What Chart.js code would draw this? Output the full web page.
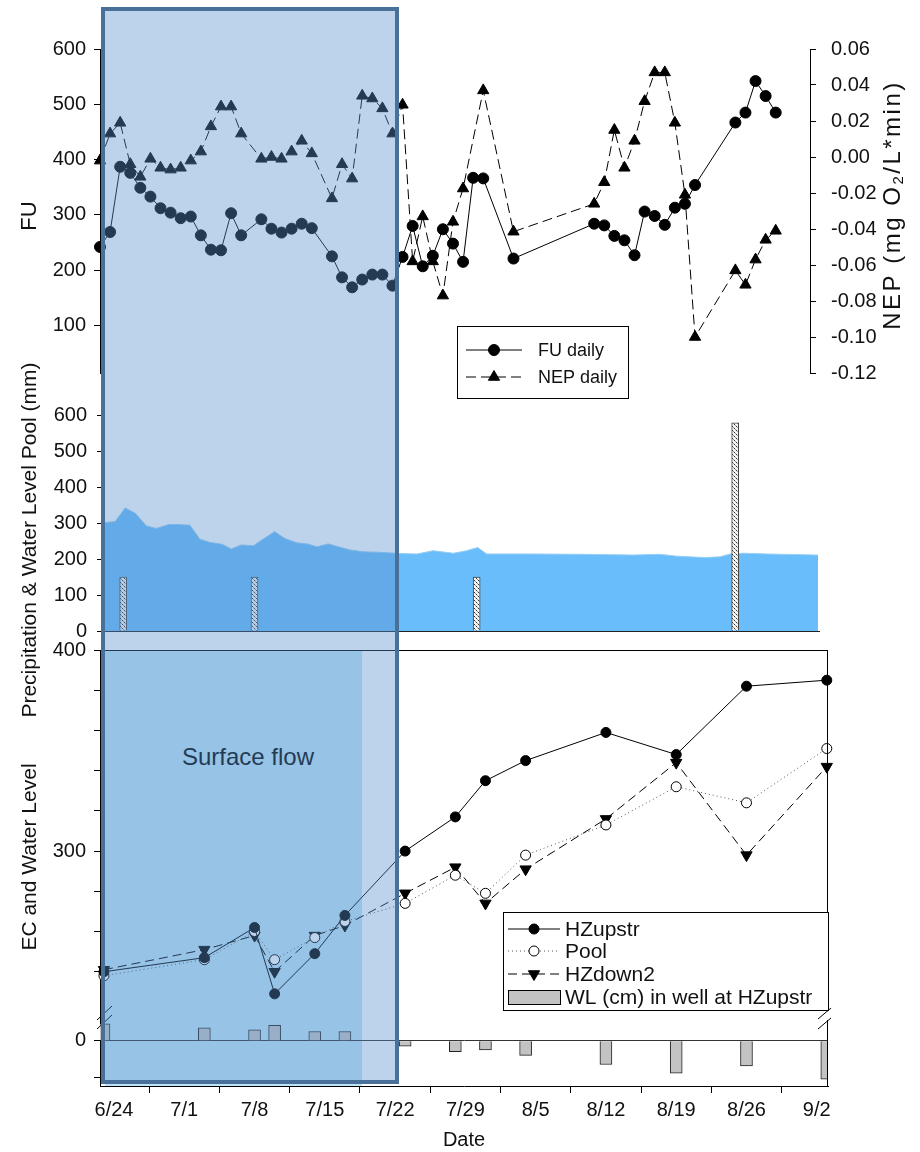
<!DOCTYPE html>
<html>
<head>
<meta charset="utf-8">
<script src="https://cdn.jsdelivr.net/npm/chart.js@4.4.1/dist/chart.umd.min.js"></script>
<style>
  body { margin: 0; background: #fff; }
  #wrap { position: relative; width: 920px; height: 1152px; overflow: hidden; font-family: 'Liberation Sans', Arial, sans-serif; }
  canvas { position: absolute; left: 0; z-index: 1; }
  #c1 { top: 0; }
  #c2 { top: 350px; }
  #c3 { top: 630px; }
  #flowBg { position: absolute; left: 105px; top: 651px; width: 257px; height: 435px; background: #bee4f7; z-index: 0; }
  #flowTxt { position: absolute; left: 105px; top: 743px; width: 286px; text-align: center; font-size: 24px; color: #000; z-index: 0; }
  #shade { position: absolute; left: 101px; top: 7px; width: 298px; height: 1077px; box-sizing: border-box;
           border: 4px solid rgb(72,112,152); background: rgba(90,145,205,0.4); z-index: 2; }
</style>
</head>
<body>
<div id="wrap">
  <div id="flowBg"></div>
  <div id="flowTxt">Surface flow</div>
  <canvas id="c1" width="920" height="400"></canvas>
  <canvas id="c2" width="920" height="380"></canvas>
  <canvas id="c3" width="920" height="522"></canvas>
  <div id="shade"></div>
</div>
<script>
// days counted from 6/24 (0 = 6/24)
// top panel: daily FU and NEP
const fuDays = [-1,0,1,2,3,4,5,6,7,8,9,10,11,12,13, 15,16,17,18,19,20, 22,23,24,25,26,27,28,29,30,31,32,33,34,35,36,37, 40, 48,49,50,51,52,53,54,55,56,57,58, 62,63,64,65,66];
const fuValues = [242,269,387,376,349,333,312,304,294,297,263,237,236,303,263, 292,275,268,275,284,276, 225,187,169,183,192,192,172,224,280,207,226,274,248,215,367,366, 221, 284,281,262,254,227,306,298,282,313,320,354, 467,485,542,515,485];
const nepDays = [-1,0,1,2,3,4,5,6,7,8,9,10,11,12,13, 15,16,17,18,19,20, 22,23,24,25,26,27,28,29,30,31,32,33,34,35, 37, 40, 48,49,50,51,52,53,54,55,56,57,58, 62,63,64,65,66];
const nepValues = [-0.002,0.013,0.019,-0.004,-0.011,-0.001,-0.006,-0.007,-0.006,-0.002,0.003,0.017,0.028,0.028,0.013, -0.001,0.000,-0.001,0.003,0.009,0.002, -0.023,-0.004,-0.012,0.034,0.0325,0.027,0.013,0.029,-0.058,-0.033,-0.058,-0.077,-0.036,-0.0175, 0.037, -0.0415, -0.026,-0.014,0.015,-0.006,0.009,0.031,0.047,0.047,0.019,-0.021,-0.100, -0.063,-0.071,-0.057,-0.046,-0.041];

// middle panel: pool water level (area) and precipitation (bars), mm
const poolDays = [-1,0.2,1.2,2.2,3.3,4.3,5.5,6.3,7.6,8.6, 9.6,10.8,11.7,12.7,13.9,14.9,16,17,18.2,19.2, 20.2,21.3,22.3,23.5,24.8,26.1,27.4,28.7,30.1,31.7, 33.7,35,36.1,37,41.6,46.6,51.5,54.1,55.8,58.6, 60.1,61.1,62.4,64.7,69.8];
const poolLevel = [301,304,342,327,292,285,296,296,294,255, 246,241,228,239,237,256,276,257,245,242, 234,242,234,225,220,219,217,215,214,223, 216,223,232,214,214,213,211,213,208,204, 206,214,216,214,211];
const precipDays = [1, 14, 36, 61.6];
const precip = [150, 150, 150, 578];

// bottom panel: EC and well water level
const ecDays = [-1, 9, 14, 16, 20, 23, 29, 34, 37, 41, 49, 56, 63, 71];
const hzUpstr = [240, 247, 262, 229, 249, 268, 300, 317, 335, 345, 359, 348, 382, 385];
const poolEC = [238, 246, 260, 246, 257, 265, 274, 288, 279, 298, 313, 332, 324, 351];
const hzDown2 = [241, 251, 258, 240, 258, 263, 279, 292, 274, 291, 316, 344, 298, 342];
const wlCm = [46, 35, 30, 42, 25, 25, -15, -30, -25, -40, -65, -89, -69, -105];

// tick values
const fuTicks = [100, 200, 300, 400, 500, 600];
const nepTicks = [-0.12, -0.10, -0.08, -0.06, -0.04, -0.02, 0, 0.02, 0.04, 0.06];
const precipTicks = [0, 100, 200, 300, 400, 500, 600];
const ecTicks = [240, 260, 280, 300, 320, 340, 360, 380, 400];
const ecLabelled = [300, 400];
const wlTicks = [-100, 0];
const dateTicks = [0, 7, 14, 21, 28, 35, 42, 49, 56, 63, 70];

const FONT = "'Liberation Sans', Arial, sans-serif";
Chart.defaults.font.family = FONT;
Chart.defaults.font.size = 20;
Chart.defaults.color = '#111';
Chart.defaults.animation = false;

function pts(xs, ys) { return xs.map((x, i) => ({ x: x, y: ys[i] })); }
function setTicks(list) { return s => { s.ticks = list.map(v => ({ value: v })); }; }
function dayLabel(d) {
  const dt = new Date(2012, 5, 24 + d);
  return (dt.getMonth() + 1) + '/' + dt.getDate();
}

function marker(ctx, style, x, y, r, fill, stroke, rot) {
  ctx.save();
  ctx.translate(x, y);
  if (rot) ctx.rotate(rot * Math.PI / 180);
  ctx.beginPath();
  if (style === 'triangle') {
    for (let i = 0; i < 3; i++) {
      const a = i * 2 * Math.PI / 3;
      const px = Math.sin(a) * r, py = -Math.cos(a) * r;
      if (i) ctx.lineTo(px, py); else ctx.moveTo(px, py);
    }
    ctx.closePath();
  } else {
    ctx.arc(0, 0, r, 0, Math.PI * 2);
  }
  ctx.fillStyle = fill; ctx.fill();
  ctx.strokeStyle = stroke; ctx.lineWidth = 1; ctx.stroke();
  ctx.restore();
}

// vertical axis titles (reading bottom to top)
function sideTitle(id, x, y, parts, spacing) {
  return {
    id: id,
    afterDraw(chart) {
      const ctx = chart.ctx;
      ctx.save();
      ctx.translate(x, y);
      ctx.rotate(-Math.PI / 2);
      ctx.fillStyle = '#111';
      ctx.textBaseline = 'middle';
      ctx.textAlign = 'left';
      ctx.letterSpacing = (spacing || 0) + 'px';
      let total = 0;
      parts.forEach(p => { ctx.font = p.size + 'px ' + FONT; p.w = ctx.measureText(p.text).width; total += p.w; });
      let cx = -total / 2;
      parts.forEach(p => { ctx.font = p.size + 'px ' + FONT; ctx.fillText(p.text, cx, p.dy || 0); cx += p.w; });
      ctx.restore();
    }
  };
}

function boxLegend(id, box, rows, x0, x1, textX, size) {
  return {
    id: id,
    afterDraw(chart) {
      const ctx = chart.ctx;
      ctx.save();
      ctx.fillStyle = '#fff';
      ctx.fillRect(box[0], box[1], box[2], box[3]);
      ctx.strokeStyle = '#000';
      ctx.lineWidth = 1;
      ctx.strokeRect(box[0] + 0.5, box[1] + 0.5, box[2], box[3]);
      rows.forEach(r => {
        const ds = chart.data.datasets[r.ds];
        if (ds.type === 'bar') {
          ctx.fillStyle = ds.backgroundColor;
          ctx.fillRect(x0, r.y - 7, x1 - x0, 14);
          ctx.strokeStyle = '#000';
          ctx.strokeRect(x0 + 0.5, r.y - 6.5, x1 - x0, 14);
        } else {
          ctx.strokeStyle = ds.borderColor;
          ctx.lineWidth = 1;
          ctx.setLineDash(ds.borderDash || []);
          ctx.beginPath(); ctx.moveTo(x0, r.y); ctx.lineTo(x1, r.y); ctx.stroke();
          ctx.setLineDash([]);
          marker(ctx, ds.pointStyle || 'circle', (x0 + x1) / 2, r.y, ds.pointRadius,
                 ds.pointBackgroundColor, ds.pointBorderColor, ds.pointRotation || 0);
        }
        ctx.fillStyle = '#111';
        ctx.font = size + 'px ' + FONT;
        ctx.textAlign = 'left';
        ctx.textBaseline = 'middle';
        ctx.fillText(ds.label, textX, r.y + 1);
      });
      ctx.restore();
    }
  };
}

// ---------- top panel: FU / NEP ----------
new Chart(document.getElementById('c1'), {
  type: 'line',
  data: {
    datasets: [{
      label: 'FU daily',
      data: pts(fuDays, fuValues),
      yAxisID: 'fu',
      borderColor: '#000', borderWidth: 1,
      pointRadius: 5.5, pointBackgroundColor: '#000', pointBorderColor: '#000',
      clip: false
    }, {
      label: 'NEP daily',
      data: pts(nepDays, nepValues),
      yAxisID: 'nep',
      borderColor: '#000', borderWidth: 1, borderDash: [10, 5],
      pointStyle: 'triangle', pointRadius: 6.5, pointBackgroundColor: '#000', pointBorderColor: '#000',
      clip: false
    }]
  },
  options: {
    responsive: false,
    layout: { padding: { top: 49, bottom: 17, left: 0, right: 0 } },
    plugins: { legend: { display: false }, tooltip: { enabled: false } },
    scales: {
      x: { type: 'linear', display: false, min: -1, max: 69.4 },
      fu: {
        type: 'linear', position: 'left', min: 14, max: 600,
        afterFit: s => { s.width = 100; },
        afterBuildTicks: setTicks(fuTicks),
        grid: { drawOnChartArea: false, tickLength: 6, tickColor: '#000' },
        border: { color: '#000' },
        ticks: { padding: 8, autoSkip: false }
      },
      nep: {
        type: 'linear', position: 'right', min: -0.12, max: 0.06,
        afterFit: s => { s.width = 110; },
        afterBuildTicks: setTicks(nepTicks),
        grid: { drawOnChartArea: false, tickLength: 6, tickColor: '#000' },
        border: { color: '#000' },
        ticks: { padding: 15, autoSkip: false, callback: v => v.toFixed(2) }
      }
    }
  },
  plugins: [
    sideTitle('fuTitle', 30, 216, [{ text: 'FU', size: 22 }]),
    sideTitle('nepTitle', 893, 205, [{ text: 'NEP (mg O', size: 24 }, { text: '2', size: 15, dy: 6 }, { text: '/L*min)', size: 24 }], 2.5),
    boxLegend('topLegend', [457, 326, 171, 72], [{ ds: 0, y: 350 }, { ds: 1, y: 377 }], 466, 522, 538, 18)
  ]
});

// ---------- middle panel: precipitation and pool water level ----------
const pat = document.createElement('canvas');
pat.width = 4; pat.height = 4;
const pctx = pat.getContext('2d');
pctx.fillStyle = '#f4f4f4'; pctx.fillRect(0, 0, 4, 4);
pctx.fillStyle = '#333'; pctx.fillRect(0, 0, 1, 1); pctx.fillRect(2, 2, 1, 1);
pctx.fillStyle = '#999'; pctx.fillRect(1, 1, 1, 1); pctx.fillRect(3, 3, 1, 1);
const hatch = document.getElementById('c2').getContext('2d').createPattern(pat, 'repeat');

new Chart(document.getElementById('c2'), {
  type: 'line',
  data: {
    datasets: [{
      type: 'bar',
      label: 'Precipitation',
      data: pts(precipDays, precip),
      backgroundColor: hatch, borderColor: '#444', borderWidth: 1,
      barThickness: 7, order: 0
    }, {
      type: 'line',
      label: 'Water Level Pool',
      data: pts(poolDays, poolLevel),
      fill: 'origin',
      backgroundColor: 'rgb(104,189,250)', borderColor: 'rgb(150,205,245)', borderWidth: 1,
      pointRadius: 0, order: 1
    }]
  },
  options: {
    responsive: false,
    layout: { padding: { top: 33, bottom: 99, left: 0, right: 100 } },
    plugins: { legend: { display: false }, tooltip: { enabled: false } },
    scales: {
      x: { type: 'linear', display: false, min: -1, max: 70, offset: false },
      y: {
        type: 'linear', min: 0, max: 689,
        afterFit: s => { s.width = 103; },
        afterBuildTicks: setTicks(precipTicks),
        grid: { tickLength: 6, tickColor: '#000', color: c => (c.tick && c.tick.value === 0) ? '#222' : 'rgba(0,0,0,0)' },
        border: { color: '#000' },
        ticks: { padding: 10, autoSkip: false }
      }
    }
  },
  plugins: [
    sideTitle('precTitle', 30, 190, [{ text: 'Precipitation & Water Level Pool (mm)', size: 21 }])
  ]
});

// ---------- bottom panel: EC and well water level ----------
const frame = {
  id: 'frame',
  afterDraw(chart) {
    const ctx = chart.ctx, a = chart.chartArea;
    const yb = chart.scales.wl.top;
    const seg = (x1, y1, x2, y2) => { ctx.beginPath(); ctx.moveTo(x1, y1); ctx.lineTo(x2, y2); ctx.stroke(); };
    ctx.save();
    ctx.strokeStyle = '#000';
    ctx.lineWidth = 1;
    seg(a.left, a.top + 0.5, a.right, a.top + 0.5);
    seg(a.right - 0.5, a.top, a.right - 0.5, yb - 10);
    seg(a.right - 0.5, yb + 2, a.right - 0.5, a.bottom);
    seg(a.left - 3, yb + 2, a.left + 12, yb - 12);
    seg(a.left - 3, yb + 11, a.left + 12, yb - 3);
    seg(a.right - 10, yb + 1, a.right + 3, yb - 10);
    seg(a.right - 10, yb + 11, a.right + 3, yb);
    ctx.restore();
  }
};

new Chart(document.getElementById('c3'), {
  type: 'line',
  data: {
    datasets: [{
      label: 'HZupstr',
      data: pts(ecDays, hzUpstr), yAxisID: 'ec',
      borderColor: '#000', borderWidth: 1,
      pointRadius: 5, pointBackgroundColor: '#000', pointBorderColor: '#000', clip: false
    }, {
      label: 'Pool',
      data: pts(ecDays, poolEC), yAxisID: 'ec',
      borderColor: '#555', borderWidth: 1, borderDash: [1, 3],
      pointRadius: 5, pointBackgroundColor: '#fff', pointBorderColor: '#000', clip: false
    }, {
      label: 'HZdown2',
      data: pts(ecDays, hzDown2), yAxisID: 'ec',
      borderColor: '#000', borderWidth: 1, borderDash: [9, 5],
      pointStyle: 'triangle', pointRotation: 180, pointRadius: 6.5,
      pointBackgroundColor: '#000', pointBorderColor: '#000', clip: false
    }, {
      type: 'bar',
      label: 'WL (cm) in well at HZupstr',
      data: pts(ecDays, wlCm), yAxisID: 'wl',
      backgroundColor: '#c3c3c3', borderColor: '#222', borderWidth: 1,
      barThickness: 12
    }]
  },
  options: {
    responsive: false,
    layout: { padding: { top: 20, bottom: 0, left: 0, right: 92 } },
    plugins: { legend: { display: false }, tooltip: { enabled: false } },
    scales: {
      x: {
        type: 'linear', min: -1.394, max: 71.12, offset: false,
        afterFit: s => { s.height = 66; },
        afterBuildTicks: setTicks(dateTicks),
        grid: { drawOnChartArea: false, tickLength: 7, tickColor: '#000' },
        border: { color: '#000' },
        ticks: { padding: 5, maxRotation: 0, autoSkip: false, callback: v => dayLabel(v) },
        title: { display: true, text: 'Date', font: { size: 20 }, padding: { top: 6, bottom: 0 } }
      },
      ec: {
        type: 'linear', position: 'left', stack: 'left', stackWeight: 368, weight: 2,
        min: 217, max: 400,
        afterFit: s => { s.width = 100; },
        afterBuildTicks: setTicks(ecTicks),
        grid: { drawOnChartArea: false, tickLength: 6, tickColor: '#000' },
        border: { color: '#000' },
        ticks: { padding: 8, autoSkip: false, callback: v => ecLabelled.includes(v) ? String(v) : '' }
      },
      wl: {
        type: 'linear', position: 'left', stack: 'left', stackWeight: 68, weight: 1,
        min: -123.8, max: 62,
        afterFit: s => { s.width = 100; },
        afterBuildTicks: setTicks(wlTicks),
        grid: { tickLength: 6, tickColor: '#000', color: c => (c.tick && c.tick.value === 0) ? '#333' : 'rgba(0,0,0,0)' },
        border: { color: '#000' },
        ticks: { padding: 8, autoSkip: false, callback: v => v === 0 ? '0' : '' }
      }
    }
  },
  plugins: [
    frame,
    sideTitle('ecTitle', 30, 227, [{ text: 'EC and Water Level', size: 21 }]),
    boxLegend('botLegend', [503, 282, 325, 98],
      [{ ds: 0, y: 299 }, { ds: 1, y: 321 }, { ds: 2, y: 344 }, { ds: 3, y: 367 }], 508, 560, 565, 21)
  ]
});
</script>
</body>
</html>
